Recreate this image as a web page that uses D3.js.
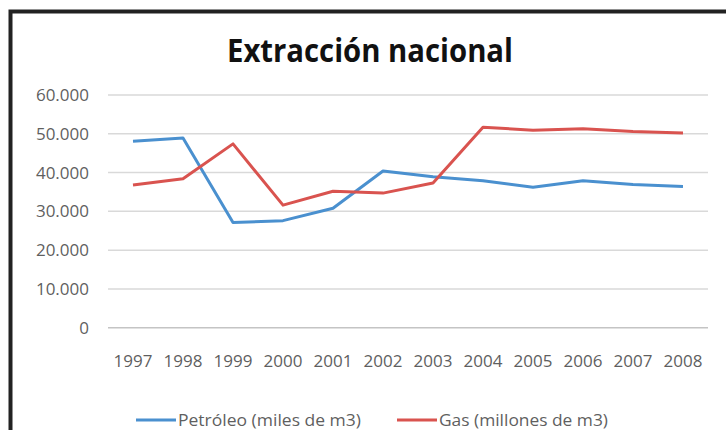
<!DOCTYPE html>
<html>
<head>
<meta charset="utf-8">
<script src="https://cdn.jsdelivr.net/npm/d3@7"></script>
<style>
  html, body { margin: 0; padding: 0; background: #fff; }
  svg { display: block; }
  text { font-family: "Open Sans", "Noto Sans", sans-serif; }
</style>
</head>
<body>
<svg id="chart" width="726" height="430"></svg>
<script>
// datos
const years = ['1997', '1998', '1999', '2000', '2001', '2002', '2003', '2004', '2005', '2006', '2007', '2008'];
const petroleo = [48100, 48900, 27100, 27600, 30800, 40400, 38900, 37900, 36200, 37900, 36900, 36400];
const gas = [36800, 38400, 47400, 31600, 35200, 34700, 37300, 51700, 50900, 51300, 50600, 50200];
const yTicks = [0, 10000, 20000, 30000, 40000, 50000, 60000];
const seriesNames = ['Petróleo (miles de m3)', 'Gas (millones de m3)'];
const seriesColors = ['#4a90cf', '#d9534f'];

const svg = d3.select('#chart');

// marco exterior
svg.append('rect')
    .attr('x', 10.5).attr('y', 11.5)
    .attr('width', 800).attr('height', 500)
    .attr('fill', 'none')
    .attr('stroke', '#222')
    .attr('stroke-width', 4);

// título
svg.append('text')
    .attr('x', 370).attr('y', 62)
    .attr('text-anchor', 'middle')
    .attr('font-size', 32)
    .attr('font-weight', 'bold')
    .attr('fill', '#111')
    .attr('textLength', 286)
    .attr('lengthAdjust', 'spacingAndGlyphs')
    .text('Extracción nacional');

const x = d3.scaleBand().domain(years).range([108, 708]);
const y = d3.scaleLinear().domain([0, 60000]).range([327.7, 95]);

// rejilla
svg.append('g')
    .selectAll('line')
    .data(yTicks)
    .join('line')
    .attr('x1', 108).attr('x2', 708)
    .attr('y1', d => y(d)).attr('y2', d => y(d))
    .attr('stroke', d => d === 0 ? '#c4c4c4' : '#d9d9d9')
    .attr('stroke-width', 1.5);

// eje y
const yAxis = d3.axisLeft(y).tickValues(yTicks).tickSize(0).tickPadding(0)
    .tickFormat(d => d === 0 ? '0' : d3.format(',')(d).replace(/,/g, '.'));
svg.append('g')
    .attr('transform', 'translate(89,0)')
    .call(yAxis)
    .call(g => g.select('.domain').remove())
    .selectAll('text')
    .attr('font-family', '"Open Sans", sans-serif')
    .attr('font-size', 17)
    .attr('fill', '#5f5f5f');

// eje x
const xAxis = d3.axisBottom(x).tickSize(0).tickPadding(0);
svg.append('g')
    .attr('transform', 'translate(0,355)')
    .call(xAxis)
    .call(g => g.select('.domain').remove())
    .selectAll('text')
    .attr('font-family', '"Open Sans", sans-serif')
    .attr('font-size', 17)
    .attr('fill', '#5f5f5f');

// líneas
const line = d3.line()
    .x((d, i) => x(years[i]) + x.bandwidth() / 2)
    .y(d => y(d));

[petroleo, gas].forEach((s, k) => {
    svg.append('path')
        .datum(s)
        .attr('d', line)
        .attr('fill', 'none')
        .attr('stroke', seriesColors[k])
        .attr('stroke-width', 3)
        .attr('stroke-linejoin', 'round');
});

// leyenda
const legendX = [136, 397];
const legendW = [183, 169];
seriesNames.forEach((name, k) => {
    const g = svg.append('g').attr('transform', `translate(${legendX[k]},420)`);
    g.append('line')
        .attr('x1', 0).attr('x2', 40)
        .attr('stroke', seriesColors[k])
        .attr('stroke-width', 3);
    g.append('text')
        .attr('x', 42).attr('y', 6)
        .attr('font-size', 17)
        .attr('fill', '#5f5f5f')
        .attr('textLength', legendW[k])
        .attr('lengthAdjust', 'spacingAndGlyphs')
        .text(name);
});
</script>
</body>
</html>
